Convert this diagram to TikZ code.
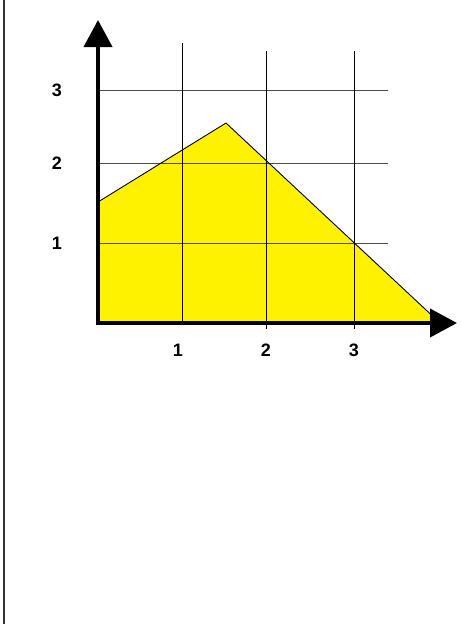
\documentclass[tikz,border=0pt]{standalone}
\usepackage{fontspec}
\setmainfont{Liberation Sans}
\usetikzlibrary{arrows.meta}

\begin{document}
\begin{tikzpicture}[x=1pt,y=-1pt,
  lbl/.style={font=\bfseries\fontsize{18}{18}\selectfont},
  grid line/.style={line width=0.8pt}]
\def\ox{98}
\def\oy{323}
\useasboundingbox (0,0) rectangle (461,624);
\draw[black!80,line width=2pt] (3.5,0) -- (3.5,624);

\fill[yellow] (\ox,202) -- (226,123) -- (440,\oy) -- (\ox,\oy) -- cycle;
\foreach \y in {90, 163, 243} \draw[grid line,black!70] (100,\y) -- (388,\y);
\foreach \x/\t/\b in {182/43/323, 266/51/329, 354/51/329} \draw[grid line] (\x,\t) -- (\x,\b);
\draw[line width=0.9pt,line join=round] (\ox,202) -- (226,123) -- (440,\oy);

\coordinate (O) at (\ox,\oy);
\coordinate (xtip) at (457,\oy);
\coordinate (ytip) at (\ox,20);
\draw[line width=4pt,miter limit=4,{Triangle[length=27pt,width=28pt]}-{Triangle[length=27pt,width=28pt]}] (ytip) -- (O) -- (xtip);

\foreach \x/\l in {178/1, 266/2, 354/3} \node[lbl] (xl\l) at (\x,350) {\l};
\foreach \y/\l in {243/1, 163/2, 90/3} \node[lbl] (yl\l) at (57,\y) {\l};
\end{tikzpicture}
\end{document}
